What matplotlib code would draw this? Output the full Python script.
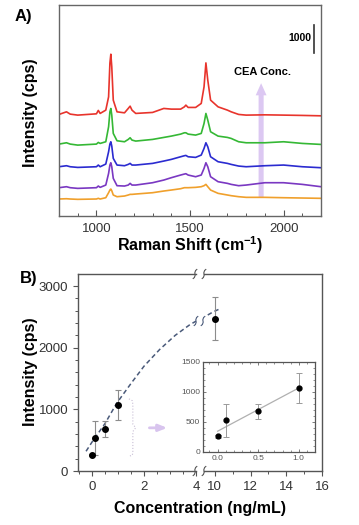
#recreate the two panel figure: (A) stacked raman spectra, (B) calibration curve with broken x axis and inset
import numpy as np
import matplotlib
matplotlib.use("Agg")
import matplotlib.pyplot as plt
from matplotlib.lines import Line2D
from matplotlib.patches import FancyArrow
from matplotlib.ticker import MultipleLocator

plt.rcParams['font.family'] = ['Liberation Sans', 'DejaVu Sans']
plt.rcParams['mathtext.fontset'] = 'custom'
plt.rcParams['mathtext.rm'] = 'Liberation Sans'
plt.rcParams['mathtext.bf'] = 'Liberation Sans:bold'

# ---------------- data ----------------
# raman shift positions (cm-1) where the spectra were read off
shift = [800, 840, 860, 900, 1000, 1010, 1020, 1050, 1065, 1072, 1077, 1082, 1090, 1110,
         1150, 1170, 1180, 1190, 1210, 1300, 1360, 1400, 1450, 1470, 1478, 1490, 1530,
         1560, 1575, 1585, 1595, 1610, 1650, 1700, 1720, 1760, 1800, 1900, 2000, 2100, 2200]

# intensities (cps) as drawn, including the stacking offset; highest CEA conc. first
spec_red = [3610, 3703, 3621, 3586, 3632, 3752, 3646, 3763, 4235, 5432, 5751, 5300, 4118, 3703,
            3667, 3823, 3905, 3763, 3646, 3681, 3823, 3799, 3799, 3880, 3941, 3859, 3859,
            4001, 4590, 5442, 4828, 4118, 3880, 3763, 3703, 3610, 3586, 3596, 3586, 3575, 3561]
spec_green = [2556, 2603, 2556, 2520, 2556, 2615, 2580, 2639, 3171, 3703, 3822, 3586, 2935, 2674,
              2639, 2722, 2781, 2698, 2663, 2722, 2793, 2840, 2911, 2958, 2958, 2911, 2876,
              2935, 3290, 3645, 3408, 2994, 2840, 2793, 2757, 2639, 2603, 2603, 2639, 2580, 2544]
spec_blue = [1751, 1787, 1751, 1727, 1751, 1811, 1751, 1846, 2284, 2556, 2639, 2485, 2047, 1811,
             1787, 1834, 1870, 1811, 1811, 1870, 1953, 2012, 2106, 2142, 2153, 2106, 2083,
             2166, 2402, 2603, 2461, 2106, 1929, 1870, 1834, 1775, 1751, 1787, 1811, 1751, 1716]
spec_purple = [1006, 1041, 1006, 982, 1006, 1065, 1018, 1100, 1514, 1811, 1893, 1751, 1337, 1077,
               1065, 1100, 1160, 1100, 1100, 1183, 1278, 1361, 1456, 1491, 1503, 1456, 1396,
               1456, 1692, 1893, 1751, 1396, 1219, 1160, 1124, 1077, 1100, 1183, 1183, 1124, 1041]
spec_orange = [604, 614, 604, 592, 604, 628, 604, 650, 828, 923, 959, 899, 746, 686,
               710, 746, 769, 769, 781, 828, 888, 923, 970, 1006, 1006, 1006, 1018,
               1041, 1077, 1124, 1041, 923, 805, 746, 722, 686, 663, 663, 650, 639, 628]
spectra = [spec_red, spec_green, spec_blue, spec_purple, spec_orange]
spec_colors = ['#e8342c', '#35b835', '#2b2bd0', '#7a38c2', '#f0a02c']

# calibration data
conc = [0, 0.1, 0.5, 1, 10]          # ng/mL
inten = [260, 530, 680, 1070, 2470]  # cps
err = [20, 278, 125, 245, 350]

# dashed guide curve (left part and right part of the broken axis)
curve_x_left = [-0.23, 0, 0.5, 0.95, 1.5, 2.0, 2.6, 3.2, 3.77, 4.0]
curve_y_left = [320, 470, 770, 1100, 1420, 1700, 1970, 2200, 2375, 2430]
curve_x_right = [9.6, 9.9, 10.2]
curve_y_right = [2530, 2580, 2620]

# ---------------- helpers ----------------
W, H = 359, 525

def fx(x):
    return x / W

def fy(y):
    return 1 - y / H

#draw a small "ʃ" break mark centred on pixel (x, y)
def squiggle(fig, x, y, color='#555555'):
    dx = [-1.8, -0.6, 0.2, -0.2, 0.6, 1.8]
    dy = [4.5, 3.5, 1.2, -1.2, -3.5, -4.5]
    fig.add_artist(Line2D([fx(x + a) for a in dx], [fy(y + b) for b in dy],
                          color=color, lw=0.8, transform=fig.transFigure))

fig = plt.figure(figsize=(W / 100, H / 100), dpi=100)

# ---------------- panel A ----------------
axA = fig.add_axes([fx(59), fy(216), 262 / W, 211 / H])
for vals, c in zip(spectra, spec_colors):
    axA.plot(shift, vals, color=c, lw=1.2)
axA.set_xlim(800, 2200)
axA.set_ylim(0, 7500)
axA.set_yticks([])
axA.xaxis.set_major_locator(MultipleLocator(500))
axA.xaxis.set_minor_locator(MultipleLocator(100))
axA.tick_params(axis='x', which='major', direction='in', length=4, width=0.8,
                color='#555555', labelsize=9.5, labelcolor='#333333', pad=5)
axA.tick_params(axis='x', which='minor', direction='in', length=2.5, width=0.7, color='#555555')
for s in axA.spines.values():
    s.set_color('#666666')
    s.set_linewidth(1.0)

#concentration arrow and scale bar
axA.add_patch(FancyArrow(1880, 675, 0, 4720 - 675, width=27, head_width=58, head_length=430,
                         length_includes_head=True, color='#dcc8f2', lw=0))
axA.text(1885, 5110, 'CEA Conc.', ha='center', va='center', fontsize=8, fontweight='bold')
axA.plot([2163, 2163], [5790, 6790], color='#333333', lw=1.2)
axA.text(2148, 6330, '1000', ha='right', va='center', fontsize=7.5, fontweight='bold')

fig.text(fx(15), fy(16), 'A)', fontsize=12, fontweight='bold', va='center', ha='left')
fig.text(fx(30), fy(113), 'Intensity (cps)', rotation=90, fontsize=11.5, fontweight='bold',
         ha='center', va='center')
fig.text(fx(190), fy(245), r'Raman Shift (cm$^{\mathbf{-1}}$)', fontsize=11.5, fontweight='bold',
         ha='center', va='center')

# ---------------- panel B ----------------
axL = fig.add_axes([fx(78), fy(471), 118 / W, (471 - 274) / H])
axR = fig.add_axes([fx(204), fy(471), 118 / W, (471 - 274) / H])

for ax in (axL, axR):
    ax.errorbar(conc, inten, yerr=err, fmt='o', color='black', ms=4, ecolor='#8c8c8c',
                elinewidth=0.8, capsize=2.5, capthick=0.8, zorder=3)
    ax.set_ylim(0, 3195)
    for s in ax.spines.values():
        s.set_color('#555555')
        s.set_linewidth(1.0)
    ax.tick_params(which='major', direction='out', length=3.5, width=0.8, color='#555555',
                   labelsize=9.5, labelcolor='#333333')
    ax.tick_params(which='minor', direction='out', length=2, width=0.7, color='#555555')

axL.plot(curve_x_left, curve_y_left, ls=(0, (3, 2)), color='#4a5a7a', lw=1.1)
axR.plot(curve_x_right, curve_y_right, ls=(0, (3, 2)), color='#4a5a7a', lw=1.1)

axL.set_xlim(-0.54, 4.0)
axL.set_xticks([0, 2, 4])
axL.xaxis.set_minor_locator(MultipleLocator(0.5))
axL.yaxis.set_major_locator(MultipleLocator(1000))
axL.yaxis.set_minor_locator(MultipleLocator(200))
axL.spines['right'].set_visible(False)

axR.set_xlim(9.39, 15.95)
axR.set_xticks([10, 12, 14, 16])
axR.xaxis.set_minor_locator(MultipleLocator(1))
axR.spines['left'].set_visible(False)
axR.tick_params(axis='y', which='both', left=False, labelleft=False)

#brace and arrow pointing to the inset
brace_x = [1.42, 1.55, 1.57, 1.57, 1.68, 1.57, 1.57, 1.55, 1.42]
brace_y = [1170, 1140, 1080, 760, 700, 640, 300, 255, 240]
axL.plot(brace_x, brace_y, color='#c9bfd6', lw=0.8, ls=':')
axL.annotate('', xy=(3.0, 700), xytext=(2.1, 700),
             arrowprops=dict(arrowstyle='-|>,head_length=0.5,head_width=0.2', color='#d8c4ee', lw=2))

#break marks on the axes and on the curve
for bx in (195, 204):
    squiggle(fig, bx, 274)
    squiggle(fig, bx, 471)
for bx in (196, 203):
    squiggle(fig, bx, 321, color='#4a5a7a')

fig.text(fx(20), fy(279), 'B)', fontsize=12, fontweight='bold', va='center', ha='left')
fig.text(fx(30), fy(372), 'Intensity (cps)', rotation=90, fontsize=11.5, fontweight='bold',
         ha='center', va='center')
fig.text(fx(200), fy(508), 'Concentration (ng/mL)', fontsize=11.5, fontweight='bold',
         ha='center', va='center')

# ---------------- inset ----------------
axI = fig.add_axes([fx(203), fy(452), 112 / W, 90 / H])
axI.errorbar(conc[:4], inten[:4], yerr=err[:4], fmt='o', color='black', ms=3.5, ecolor='#9a9a9a',
             elinewidth=0.7, capsize=2, capthick=0.7, zorder=3)
slope, icpt = np.polyfit(conc[:4], inten[:4], 1)
axI.plot([0, 1], [icpt, icpt + slope], color='#b0b0b0', lw=0.9)
axI.set_xlim(-0.18, 1.2)
axI.set_ylim(0, 1500)
axI.set_xticks([0, 0.5, 1.0])
axI.set_xticklabels(['0.0', '0.5', '1.0'])
axI.set_yticks([0, 500, 1000, 1500])
axI.xaxis.set_minor_locator(MultipleLocator(0.1))
axI.yaxis.set_minor_locator(MultipleLocator(100))
axI.tick_params(which='major', direction='in', length=2.5, width=0.6, color='#666666',
                labelsize=6, labelcolor='#555555', top=True, right=True, pad=2)
axI.tick_params(which='minor', direction='in', length=1.5, width=0.5, color='#666666',
                top=True, right=True)
for s in axI.spines.values():
    s.set_color('#555555')
    s.set_linewidth(0.9)

fig.savefig('out.png', dpi=100)
